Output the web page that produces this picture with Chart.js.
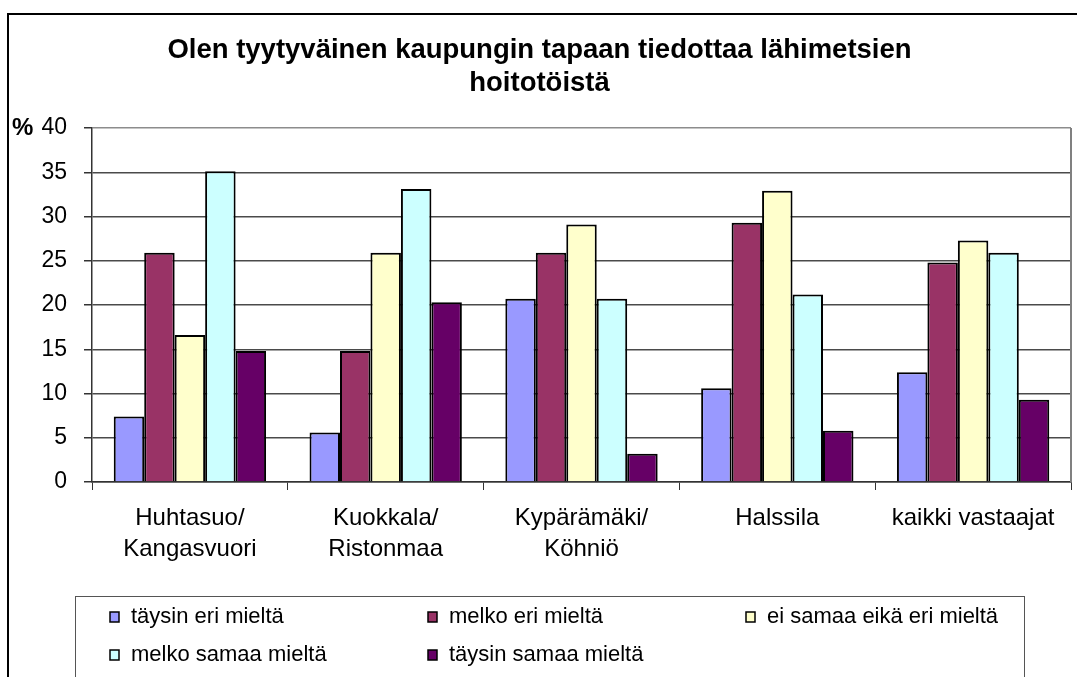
<!DOCTYPE html>
<html lang="fi">
<head>
  <meta charset="UTF-8">
  <title>Olen tyytyväinen kaupungin tapaan tiedottaa lähimetsien hoitotöistä</title>
  <script src="https://cdn.jsdelivr.net/npm/chart.js"></script>
  <style>
    body {
      margin: 0;
      background: #fff;
    }
    canvas {
      display: block;
    }
  </style>
</head>
<body>
  <canvas id="chart" width="1077" height="677"></canvas>

  <script>
    // ----- data -----
    const areas = [
      ['Huhtasuo/', 'Kangasvuori'],
      ['Kuokkala/', 'Ristonmaa'],
      ['Kypärämäki/', 'Köhniö'],
      'Halssila',
      'kaikki vastaajat'
    ];
    const answerLabels = [
      'täysin eri mieltä',
      'melko eri mieltä',
      'ei samaa eikä eri mieltä',
      'melko samaa mieltä',
      'täysin samaa mieltä'
    ];
    const taysinEri = [7.4, 5.6, 20.7, 10.6, 12.4];
    const melkoEri = [25.9, 14.8, 25.9, 29.3, 24.8];
    const eiSamaaEikaEri = [16.6, 25.9, 29.1, 32.9, 27.3];
    const melkoSamaa = [35.1, 33.1, 20.7, 21.2, 25.9];
    const taysinSamaa = [14.8, 20.3, 3.2, 5.8, 9.3];
    const answerColors = ['#9999ff', '#993366', '#ffffcc', '#ccffff', '#660066'];
    const yMin = 0, yMax = 40, yStep = 5;
    const titleLines = ['Olen tyytyväinen kaupungin tapaan tiedottaa lähimetsien', 'hoitotöistä'];
    const yUnit = '%';

    const FONT = "'Liberation Sans', Arial, sans-serif";
    const seriesValues = [taysinEri, melkoEri, eiSamaaEikaEri, melkoSamaa, taysinSamaa];

    // outer frame, right plot border, "%" and the legend box
    const decorations = {
      id: 'decorations',
      beforeDraw(chart) {
        const ctx = chart.ctx;
        ctx.save();
        ctx.fillStyle = '#fff';
        ctx.fillRect(0, 0, chart.width, chart.height);
        ctx.strokeStyle = '#000';
        ctx.lineWidth = 2;
        ctx.strokeRect(8, 14, chart.width + 20, chart.height + 20);
        ctx.restore();
      },
      afterDraw(chart) {
        const ctx = chart.ctx;
        const area = chart.chartArea;
        const y = chart.scales.y;
        ctx.save();

        // right edge of the plot area
        ctx.strokeStyle = '#808080';
        ctx.lineWidth = 2;
        ctx.beginPath();
        ctx.moveTo(area.right, area.top);
        ctx.lineTo(area.right, area.bottom);
        ctx.stroke();

        // unit next to the top tick
        ctx.fillStyle = '#000';
        ctx.font = 'bold 24px ' + FONT;
        ctx.textBaseline = 'middle';
        ctx.textAlign = 'left';
        ctx.fillText(yUnit, 12, y.getPixelForValue(yMax));

        // legend
        ctx.strokeStyle = '#555';
        ctx.lineWidth = 1;
        ctx.strokeRect(75.5, 596.5, 949, 100);
        ctx.font = '22px ' + FONT;
        chart.data.datasets.forEach((ds, i) => {
          const col = i % 3, row = Math.floor(i / 3);
          const lx = 110 + col * 318;
          const ly = 617 + row * 38;
          ctx.fillStyle = ds.backgroundColor;
          ctx.fillRect(lx, ly - 5, 9, 10);
          ctx.strokeStyle = '#000';
          ctx.lineWidth = 1.5;
          ctx.strokeRect(lx, ly - 5, 9, 10);
          ctx.fillStyle = '#000';
          ctx.fillText(ds.label, lx + 21, ly);
        });
        ctx.restore();
      }
    };

    new Chart(document.getElementById('chart'), {
      type: 'bar',
      data: {
        labels: areas,
        datasets: answerLabels.map((label, i) => ({
          label: label,
          data: seriesValues[i],
          backgroundColor: answerColors[i],
          borderColor: '#000',
          borderWidth: 2,
          categoryPercentage: 0.778,
          barPercentage: 1
        }))
      },
      options: {
        responsive: false,
        animation: false,
        devicePixelRatio: 1,
        layout: {
          padding: { left: 8, right: 6, top: 14, bottom: 95 }
        },
        plugins: {
          legend: { display: false },
          tooltip: { enabled: false },
          title: {
            display: true,
            text: titleLines,
            color: '#000',
            font: { family: FONT, size: 27.5, weight: 'bold', lineHeight: 1.2 },
            padding: { top: 19.5, bottom: 28.5 }
          }
        },
        scales: {
          x: {
            grid: {
              offset: true,
              drawOnChartArea: false,
              drawTicks: true,
              tickLength: 8,
              color: '#333'
            },
            border: { color: '#333', width: 1.5 },
            ticks: {
              color: '#000',
              padding: 13,
              maxRotation: 0,
              autoSkip: false,
              font: { family: FONT, size: 24, lineHeight: 1.29 }
            },
            afterFit(scale) { scale.height = 100; }
          },
          y: {
            min: yMin,
            max: yMax,
            ticks: {
              stepSize: yStep,
              color: '#000',
              padding: 17,
              font: { family: FONT, size: 23 }
            },
            grid: {
              color: ctx => ctx.tick && ctx.tick.value === yMax ? '#8c8c8c' : '#4a4a4a',
              lineWidth: 1.5,
              tickLength: 8,
              tickColor: '#333'
            },
            border: { color: '#333', width: 1.5 },
            afterFit(scale) { scale.width = 84; }
          }
        }
      },
      plugins: [decorations]
    });
  </script>
</body>
</html>
